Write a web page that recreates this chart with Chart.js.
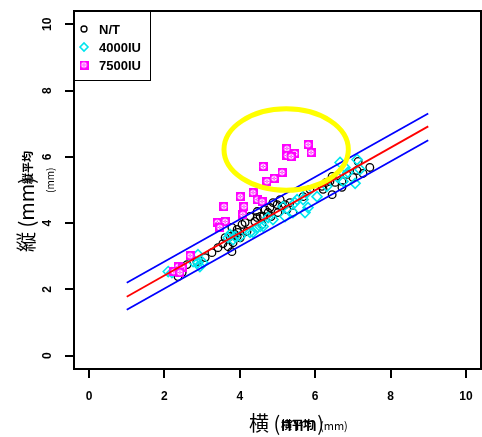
<!DOCTYPE html>
<html><head><meta charset="utf-8">
<script src="https://cdn.jsdelivr.net/npm/chart.js@4/dist/chart.umd.min.js"></script>
<style>html,body{margin:0;padding:0;background:#fff;}</style>
</head><body>
<canvas id="c" width="482" height="437" style="width:482px;height:437px;display:block"></canvas>
<script>
// ---- data ----
const seriesNames = ['N/T', '4000IU', '7500IU'];

const ntX = [2.36,2.47,2.60,2.86,3.08,3.26,3.42,3.55,3.69,3.82,3.79,3.93,3.95,4.01,3.61,3.74,3.87,3.79,3.93,4.06,4.14,4.27,4.46,4.54,4.62,4.67,4.75,4.80,4.88,4.99,5.07,5.12,5.20,5.25,5.33,5.41,4.40,4.46,5.68,5.86,6.18,6.21,6.29,6.39,6.45,6.53,6.71,6.71,6.45,6.84,7.00,7.11,7.14,7.27,7.45,5.01,4.83,4.59,4.19];
const ntY = [2.39,2.51,2.75,2.84,2.96,3.11,3.26,3.38,3.29,3.41,3.14,3.60,3.72,3.56,3.56,3.60,3.66,3.87,3.81,3.96,4.02,4.20,4.35,4.20,4.20,4.41,4.32,4.47,4.62,4.56,4.71,4.50,4.56,4.41,4.62,4.32,4.05,4.17,4.80,5.02,5.11,5.02,5.23,5.26,5.41,5.23,5.26,5.08,4.86,5.47,5.38,5.59,5.86,5.50,5.68,4.32,4.20,3.96,3.75];

const iu4000X = [2.10,2.20,2.76,2.89,2.89,3.02,2.94,3.69,3.74,3.82,3.87,4.01,4.27,4.35,4.46,4.54,4.62,4.75,4.88,5.15,5.20,5.41,5.46,5.52,5.68,5.73,5.78,5.81,6.05,6.31,6.60,6.66,6.74,6.79,6.87,7.06,7.11,7.19];
const iu4000Y = [2.54,2.51,2.84,3.05,2.81,2.81,2.69,3.56,3.66,3.50,3.60,3.60,3.72,3.72,3.87,3.90,3.90,4.17,4.11,4.50,4.20,4.32,4.62,4.71,4.71,4.32,4.92,4.47,4.80,5.11,5.38,5.83,5.26,5.68,5.53,5.20,5.92,5.62];

const iu7500X = [5.25,5.25,5.46,5.36,5.81,5.89,4.62,5.12,4.72,4.91,4.01,4.35,4.46,4.59,3.58,4.11,4.08,3.40,3.61,3.47,2.68,2.36,2.47,2.25,2.41];
const iu7500Y = [6.25,6.04,6.10,6.01,6.37,6.13,5.71,5.53,5.26,5.35,4.80,4.92,4.71,4.65,4.50,4.50,4.26,4.02,4.05,3.87,3.02,2.69,2.66,2.54,2.51];

const fitX = [1, 9];
const fitY = [1.78, 6.92];
const upperY = [2.20, 7.31];
const lowerY = [1.39, 6.50];

const ellipseCenter = [5.23, 6.22];
const ellipseRadii = [1.65, 1.23];

const xTickValues = [0, 2, 4, 6, 8, 10];
const yTickValues = [0, 2, 4, 6, 8, 10];
const xRange = [-0.4, 10.4];
const yRange = [-0.4, 10.4];

const xTitleMain = '横 (mm)';
const xTitleOver = '横平均';
const xTitleUnit = '(mm)';
const yTitleMain = '縦 (mm)';
const yTitleOver = '縦平均';
const yTitleUnit = '(mm)';

// ---- helpers ----
const pts = (xs, ys) => xs.map((x, i) => ({x, y: ys[i]}));

const sq = document.createElement('canvas');
sq.width = 9; sq.height = 9;
(function(){
  const g = sq.getContext('2d');
  g.fillStyle = '#FF00FF'; g.fillRect(0, 0, 9, 9);
  g.strokeStyle = '#ffffff'; g.lineWidth = 1;
  g.beginPath(); g.arc(4.5, 4.5, 2.4, 0, Math.PI * 2); g.stroke();
  g.beginPath(); g.moveTo(3, 3); g.lineTo(6, 6); g.moveTo(6, 3); g.lineTo(3, 6); g.stroke();
})();

const styles = [
  {pointStyle: 'circle', radius: 3.8, color: '#000000', fill: 'rgba(0,0,0,0)', bw: 1.3},
  {pointStyle: 'rectRot', radius: 5, color: '#00E5EE', fill: 'rgba(0,0,0,0)', bw: 1.6},
  {pointStyle: sq, radius: 4.5, color: '#FF00FF', fill: '#FF00FF', bw: 0}
];

const FONT = '"Liberation Sans", Arial, sans-serif';
const CJK = '"Noto Sans CJK JP", sans-serif';

const frameAndDecor = {
  id: 'frameAndDecor',
  afterDatasetsDraw(chart) {
    const ctx = chart.ctx;
    const xs = chart.scales.x, ys = chart.scales.y;
    ctx.save();
    const cx = xs.getPixelForValue(ellipseCenter[0]);
    const cy = ys.getPixelForValue(ellipseCenter[1]);
    const rx = Math.abs(xs.getPixelForValue(ellipseCenter[0] + ellipseRadii[0]) - cx);
    const ry = Math.abs(ys.getPixelForValue(ellipseCenter[1] + ellipseRadii[1]) - cy);
    ctx.strokeStyle = '#FFFF00'; ctx.lineWidth = 5;
    ctx.beginPath(); ctx.ellipse(cx, cy, rx, ry, 0, 0, Math.PI * 2); ctx.stroke();
    ctx.restore();
  },
  afterDraw(chart) {
    const ctx = chart.ctx, a = chart.chartArea;
    const xs = chart.scales.x, ys = chart.scales.y;
    ctx.save();
    // frame
    ctx.strokeStyle = '#000'; ctx.lineWidth = 2;
    ctx.strokeRect(a.left, a.top, a.right - a.left, a.bottom - a.top);
    // tick labels
    ctx.fillStyle = '#000';
    ctx.font = 'bold 12px ' + FONT;
    ctx.textAlign = 'center'; ctx.textBaseline = 'middle';
    xTickValues.forEach(v => {
      ctx.fillText(String(v), xs.getPixelForValue(v), 397);
    });
    yTickValues.forEach(v => {
      const py = ys.getPixelForValue(v);
      ctx.save(); ctx.translate(48, py); ctx.rotate(-Math.PI / 2);
      ctx.fillText(String(v), 0, 0); ctx.restore();
    });
    // legend
    const lx = a.left, ly = a.top;
    ctx.fillStyle = '#fff';
    ctx.fillRect(lx, ly, 76, 69);
    ctx.strokeStyle = '#000'; ctx.lineWidth = 1;
    ctx.strokeRect(lx + 0.5, ly + 0.5, 76, 69);
    ctx.font = 'bold 13px ' + FONT;
    ctx.textAlign = 'left'; ctx.textBaseline = 'middle';
    seriesNames.forEach((name, i) => {
      const yy = ly + 18 + i * 18;
      const s = styles[i];
      ctx.strokeStyle = s.color; ctx.fillStyle = s.fill; ctx.lineWidth = s.bw || 1;
      Chart.helpers.drawPoint(ctx, {pointStyle: s.pointStyle, radius: i === 0 ? 3 : 4, rotation: 0, borderWidth: s.bw}, lx + 10, yy);
      ctx.fillStyle = '#000';
      ctx.fillText(name, lx + 25, yy + 1);
    });
    // x title
    ctx.fillStyle = '#000';
    ctx.textAlign = 'left'; ctx.textBaseline = 'alphabetic';
    ctx.font = '20px ' + CJK;
    ctx.fillText(xTitleMain, 249, 431);
    ctx.font = 'bold 11px ' + CJK;
    ctx.fillText(xTitleOver, 281, 429);
    ctx.font = '11px ' + CJK;
    ctx.fillText(xTitleUnit, 320, 430);
    // y title
    ctx.save();
    ctx.translate(34, 252); ctx.rotate(-Math.PI / 2);
    ctx.font = '20px ' + CJK;
    ctx.fillText(yTitleMain, 0, 0);
    ctx.font = 'bold 11px ' + CJK;
    ctx.fillText(yTitleOver, 68, -2);
    ctx.restore();
    ctx.save();
    ctx.translate(54, 193); ctx.rotate(-Math.PI / 2);
    ctx.font = '10px ' + CJK;
    ctx.fillText(yTitleUnit, 0, 0);
    ctx.restore();
    ctx.restore();
  }
};

const lineDs = (label, ys, color) => ({
  type: 'line', label, data: pts(fitX, ys), borderColor: color, borderWidth: 1.8,
  pointRadius: 0, fill: false, tension: 0, showLine: true
});

const scatterDs = (i, xs, ys) => ({
  type: 'scatter', label: seriesNames[i], data: pts(xs, ys),
  pointStyle: styles[i].pointStyle, pointRadius: styles[i].radius, pointHoverRadius: styles[i].radius,
  borderColor: styles[i].color, backgroundColor: styles[i].fill, borderWidth: styles[i].bw
});

new Chart(document.getElementById('c'), {
  type: 'scatter',
  data: {
    datasets: [
      lineDs('upper', upperY, '#0000FF'),
      lineDs('lower', lowerY, '#0000FF'),
      lineDs('fit', fitY, '#FF0000'),
      scatterDs(2, iu7500X, iu7500Y),
      scatterDs(1, iu4000X, iu4000Y),
      scatterDs(0, ntX, ntY)
    ]
  },
  options: {
    responsive: false, animation: false, devicePixelRatio: 1,
    layout: {autoPadding: false, padding: {top: 11, right: 1, left: 0, bottom: 0}},
    plugins: {legend: {display: false}, tooltip: {enabled: false}},
    scales: {
      x: {
        type: 'linear', min: xRange[0], max: xRange[1],
        afterBuildTicks: s => { s.ticks = xTickValues.map(v => ({value: v})); },
        afterFit: s => { s.height = 68; },
        ticks: {display: false},
        grid: {display: true, drawOnChartArea: false, drawTicks: true, tickLength: 9, color: '#000', lineWidth: 2},
        border: {display: true, color: '#000', width: 2}
      },
      y: {
        type: 'linear', min: yRange[0], max: yRange[1],
        afterBuildTicks: s => { s.ticks = yTickValues.map(v => ({value: v})); },
        afterFit: s => { s.width = 74; },
        ticks: {display: false},
        grid: {display: true, drawOnChartArea: false, drawTicks: true, tickLength: 9, color: '#000', lineWidth: 2},
        border: {display: true, color: '#000', width: 2}
      }
    }
  },
  plugins: [frameAndDecor]
});
</script>
</body></html>
